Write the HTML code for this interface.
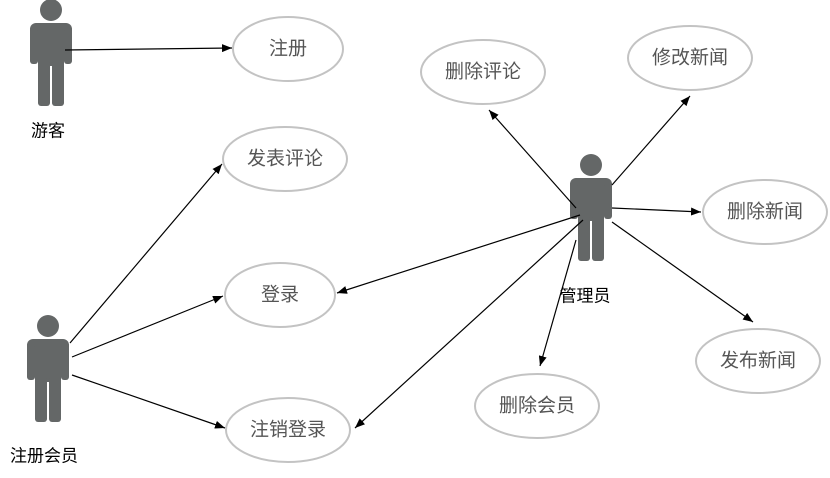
<!DOCTYPE html>
<html><head><meta charset="utf-8"><style>
html,body{margin:0;padding:0;background:#fff;}
svg{display:block;font-family:"Liberation Sans","Noto Sans CJK SC",sans-serif;}
</style></head><body>
<svg width="830" height="478" viewBox="0 0 830 478">
<defs>
<marker id="a" markerWidth="10" markerHeight="8" refX="10" refY="4" orient="auto" markerUnits="userSpaceOnUse">
<path d="M0,0 L10,4 L0,8 Z" fill="#000"/></marker>
<g id="actor" fill="#646767">
<circle cx="0" cy="0" r="11"/>
<rect x="-21" y="13" width="42" height="20" rx="6"/>
<rect x="-21" y="18" width="8" height="36" rx="3"/>
<rect x="13" y="18" width="8" height="36" rx="3"/>
<rect x="-13" y="18" width="26" height="38"/>
<rect x="-13" y="50" width="12" height="46" rx="3"/>
<rect x="1" y="50" width="12" height="46" rx="3"/>
</g>
</defs>
<use href="#actor" x="51" y="10"/>
<use href="#actor" x="48" y="326"/>
<use href="#actor" x="591" y="165"/>
<g fill="#fff" stroke="#c3c3c3" stroke-width="2">
<ellipse cx="288" cy="49" rx="55" ry="32"/>
<ellipse cx="285" cy="159" rx="62" ry="32"/>
<ellipse cx="280" cy="295" rx="55" ry="32"/>
<ellipse cx="288" cy="430" rx="62" ry="32"/>
<ellipse cx="483" cy="72" rx="62" ry="32"/>
<ellipse cx="690" cy="58" rx="62" ry="32"/>
<ellipse cx="765" cy="212" rx="62" ry="32"/>
<ellipse cx="758" cy="361" rx="62" ry="32"/>
<ellipse cx="537" cy="406" rx="62" ry="32"/>
</g>
<g stroke="#000" stroke-width="1.2" marker-end="url(#a)">
<line x1="65" y1="50" x2="232" y2="48"/>
<line x1="70" y1="343" x2="222" y2="164"/>
<line x1="72" y1="357" x2="223" y2="296"/>
<line x1="72" y1="375" x2="225" y2="428"/>
<line x1="580" y1="215" x2="337" y2="293"/>
<line x1="583" y1="220" x2="355" y2="428"/>
<line x1="576" y1="240" x2="540" y2="366"/>
<line x1="576" y1="208" x2="489" y2="110"/>
<line x1="612" y1="185" x2="690" y2="96"/>
<line x1="612" y1="208" x2="701" y2="212"/>
<line x1="612" y1="222" x2="753" y2="322"/>
</g>
<g font-size="19" fill="#555" text-anchor="middle" dominant-baseline="central">
<text x="288" y="49">注册</text>
<text x="285" y="159">发表评论</text>
<text x="280" y="295">登录</text>
<text x="288" y="430">注销登录</text>
<text x="483" y="72">删除评论</text>
<text x="690" y="58">修改新闻</text>
<text x="765" y="212">删除新闻</text>
<text x="758" y="361">发布新闻</text>
<text x="537" y="406">删除会员</text>
</g>
<g font-size="17" fill="#000" text-anchor="middle" dominant-baseline="central">
<text x="48" y="131">游客</text>
<text x="585" y="296">管理员</text>
<text x="44" y="456">注册会员</text>
</g>
</svg>
</body></html>
